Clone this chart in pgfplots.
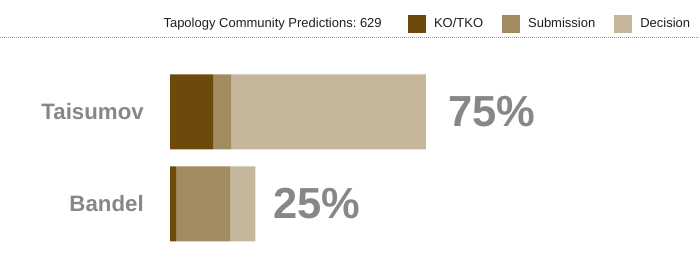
\documentclass[border=0pt]{standalone}
\usepackage{pgfplots}
\pgfplotsset{compat=1.18}
\usepackage{fontspec}
\setmainfont{Liberation Sans}
\frenchspacing
\definecolor{ko}{HTML}{6D4A0B}
\definecolor{sub}{HTML}{A28B61}
\definecolor{dec}{HTML}{C5B79C}
\definecolor{txtgray}{HTML}{878787}
\definecolor{legtext}{HTML}{1E1E1E}
\pgfplotsset{sqlegend/.style={legend image code/.code={\fill[##1] (0pt,-6.75pt) rectangle (13.5pt,6.75pt);}}}
\begin{document}
\begin{tikzpicture}[x=0.75pt,y=0.75pt]
\path[use as bounding box] (0,0) rectangle (700,260);
\draw[gray!80, line width=0.75pt, dash pattern=on 0.75pt off 0.75pt] (0,222) -- (700,222);
\begin{axis}[
  at={(127.5pt,7.5pt)}, anchor=south west,
  scale only axis, width=192pt, height=138pt,
  xmin=0, xmax=75, ymin=-0.5, ymax=1.5,
  hide axis, xbar stacked, bar width=56.25pt,
  clip=false,
  legend columns=3,
  legend style={at={(0.9297,1.2283)}, anchor=west, draw=none, fill=none,
    inner sep=0pt, outer sep=0pt,
    font=\fontsize{9.75}{11}\selectfont, text=legtext,
    column sep=6pt,
    /tikz/every even column/.append style={column sep=14.25pt},
    nodes={inner sep=0pt, anchor=west}},
]
\addplot[fill=ko, draw=none, sqlegend] coordinates {(12.6,1) (1.8,0)};
\addplot[fill=sub, draw=none, sqlegend] coordinates {(5.3,1) (15.8,0)};
\addplot[fill=dec, draw=none, sqlegend] coordinates {(57.1,1) (7.4,0)};
\legend{KO/TKO, Submission, Decision}
\node[anchor=west, inner sep=0pt, text=txtgray, font=\fontsize{32.6}{36}\selectfont\bfseries, xshift=16.5pt] at (axis cs:75,1) {75\%};
\node[anchor=west, inner sep=0pt, text=txtgray, font=\fontsize{32.6}{36}\selectfont\bfseries, xshift=13.5pt] at (axis cs:25,0) {25\%};
\node[anchor=east, inner sep=0pt, text=txtgray, font=\fontsize{16.7}{19}\selectfont\bfseries, xshift=-19.5pt] at (axis cs:0,1) {Taisumov};
\node[anchor=east, inner sep=0pt, text=txtgray, font=\fontsize{16.7}{19}\selectfont\bfseries, xshift=-19.5pt] at (axis cs:0,0) {Bandel};
\node[anchor=east, inner sep=0pt, text=legtext, font=\fontsize{9.75}{11}\selectfont, xshift=-19.5pt] at (axis description cs:0.9297,1.2283) {Tapology Community Predictions: 629};
\end{axis}
\end{tikzpicture}
\end{document}
